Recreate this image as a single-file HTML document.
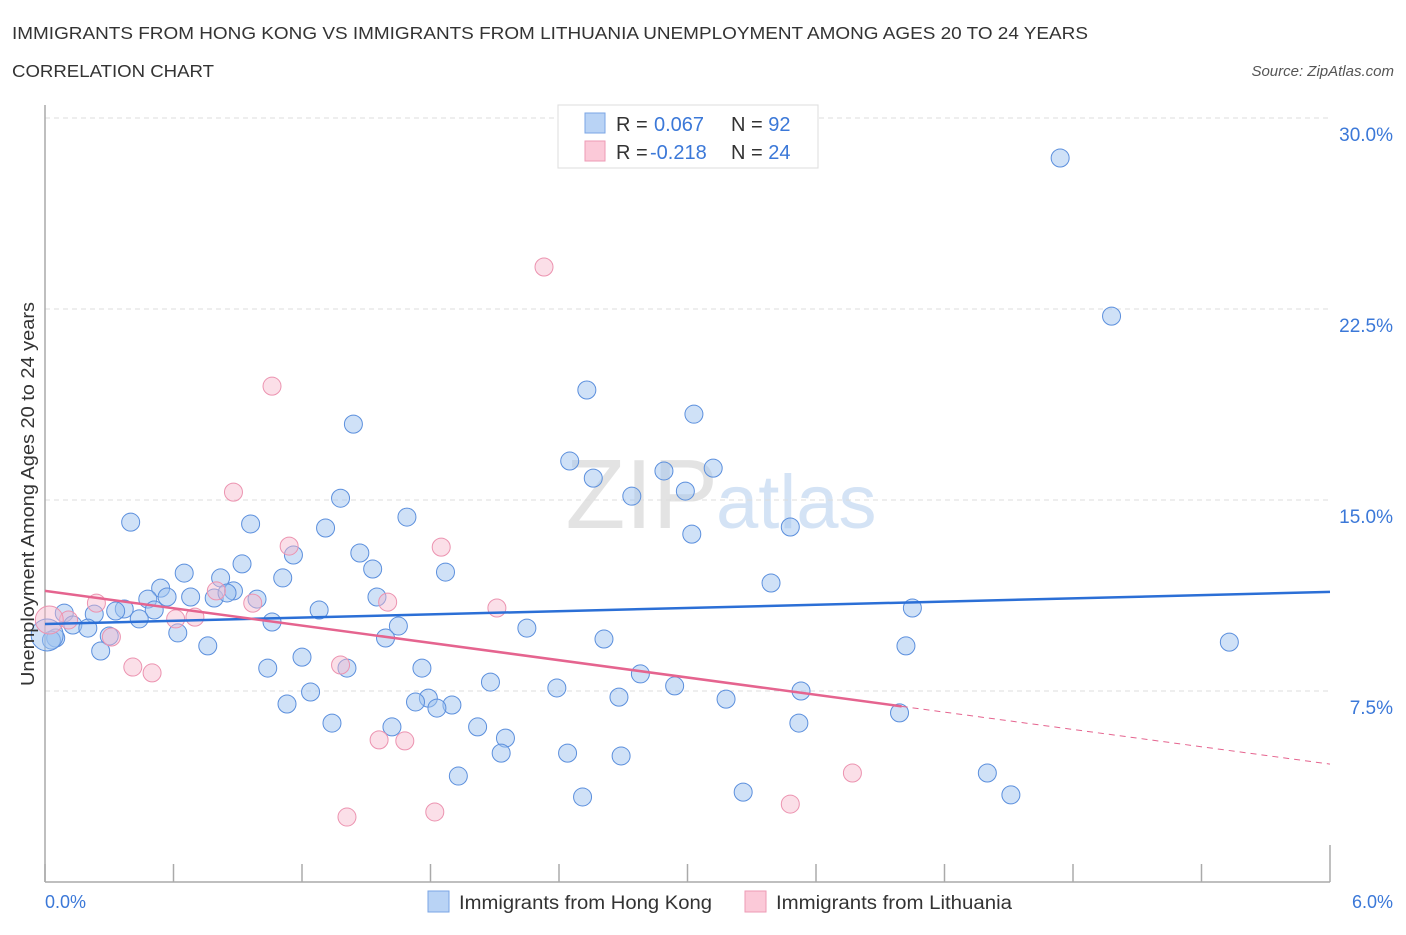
<!DOCTYPE html>
<html><head><meta charset="utf-8"><style>
body{margin:0;background:#fff;font-family:"Liberation Sans",sans-serif;}
svg text{font-family:"Liberation Sans",sans-serif;}
</style></head><body>
<svg id="chart" width="1406" height="930" xmlns="http://www.w3.org/2000/svg">
<text x="12" y="39" font-size="17.5" fill="#333" textLength="1076" lengthAdjust="spacingAndGlyphs">IMMIGRANTS FROM HONG KONG VS IMMIGRANTS FROM LITHUANIA UNEMPLOYMENT AMONG AGES 20 TO 24 YEARS</text>
<text x="12" y="77" font-size="17.5" fill="#333" textLength="202" lengthAdjust="spacingAndGlyphs">CORRELATION CHART</text>
<text x="1394" y="76" font-size="15" fill="#555" font-style="italic" text-anchor="end">Source: ZipAtlas.com</text>
<text x="718" y="528" font-size="98" fill="#e3e3e3" text-anchor="end" font-family="Liberation Serif">ZIP</text>
<text x="716" y="528" font-size="76" fill="#d4e3f5">atlas</text>
<g id="grid"></g>
<g id="axes"></g>
<g id="pts"></g>
<g id="lines"></g>
<text transform="translate(34,494) rotate(-90)" font-size="18" fill="#333" text-anchor="middle" textLength="384" lengthAdjust="spacingAndGlyphs">Unemployment Among Ages 20 to 24 years</text>
<text x="45" y="908" font-size="18" fill="#3b78d8">0.0%</text>
<text x="1393" y="908" font-size="18" fill="#3b78d8" text-anchor="end">6.0%</text>
<g>
<rect x="558" y="105" width="260" height="63" fill="#fff" stroke="#ddd"/>
<rect x="585" y="113" width="20" height="20" fill="#b9d3f5" stroke="#7aa5e5"/>
<rect x="585" y="141" width="20" height="20" fill="#fbc9d8" stroke="#ee9ab5"/>
<text x="616" y="131" font-size="20" fill="#333">R = <tspan x="654" fill="#3b78d8">0.067</tspan><tspan x="731">N = </tspan><tspan fill="#3b78d8">92</tspan></text>
<text x="616" y="159" font-size="20" fill="#333">R = <tspan x="650" fill="#3b78d8">-0.218</tspan><tspan x="731">N = </tspan><tspan fill="#3b78d8">24</tspan></text>
</g>
<g>
<rect x="428" y="891" width="21" height="21" fill="#b9d3f5" stroke="#7aa5e5"/>
<text x="459" y="909" font-size="19" fill="#333" textLength="253" lengthAdjust="spacingAndGlyphs">Immigrants from Hong Kong</text>
</g>
<g>
<rect x="745" y="891" width="21" height="21" fill="#fbc9d8" stroke="#ee9ab5"/>
<text x="776" y="909" font-size="19" fill="#333" textLength="236" lengthAdjust="spacingAndGlyphs">Immigrants from Lithuania</text>
</g>
</svg>
<script>
const yTicks=[7.5,15,22.5,30];
const yTickLabels=["7.5%","15.0%","22.5%","30.0%"];
const xTicks=[0,0.6,1.2,1.8,2.4,3.0,3.6,4.2,4.8,5.4,6.0];
const hkX=[4.74,4.98,2.53,3.03,1.44,2.45,2.89,3.12,2.56,2.99,2.74,1.38,0.40,0.96,1.69,1.31,3.02,3.48,1.16,1.47,0.92,0.65,1.53,1.87,0.82,1.11,0.54,3.39,0.48,0.57,0.68,0.79,0.88,0.85,0.99,0.37,0.33,0.51,1.28,1.55,4.05,0.23,0.09,0.44,1.06,0.13,0.20,1.65,2.25,0.62,0.30,1.59,2.61,0.05,0.03,5.53,4.02,0.26,0.76,1.20,1.04,1.41,1.76,2.78,2.08,2.39,2.94,1.24,3.53,1.79,2.68,1.73,1.13,1.90,1.83,3.18,3.99,1.34,1.62,2.02,3.52,2.15,2.13,2.44,2.69,1.93,4.40,3.26,2.51,4.51,0.01];
const hkY=[28.43,22.22,19.32,18.37,17.98,16.53,16.14,16.25,15.86,15.35,15.15,15.07,14.13,14.06,14.33,13.90,13.66,13.94,12.84,12.92,12.49,12.13,12.29,12.17,11.94,11.94,11.54,11.74,11.11,11.19,11.19,11.15,11.43,11.35,11.11,10.72,10.64,10.68,10.68,11.19,10.76,10.52,10.56,10.33,10.21,10.09,9.97,10.05,9.97,9.78,9.66,9.58,9.54,9.58,9.50,9.42,9.27,9.07,9.27,8.83,8.40,8.40,8.40,8.17,7.85,7.62,7.70,7.46,7.50,7.22,7.26,7.07,6.99,6.95,6.83,7.18,6.64,6.24,6.09,6.09,6.24,5.65,5.06,5.06,4.95,4.16,4.28,3.53,3.34,3.42,9.70];
const ltX=[2.33,1.06,0.88,1.14,1.85,2.11,1.60,0.24,0.80,0.97,0.61,0.70,0.11,0.31,0.41,0.50,1.38,1.56,1.68,3.77,3.48,1.41,1.82,0.02];
const ltY=[24.15,19.47,15.31,13.19,13.15,10.76,10.99,10.95,11.43,10.95,10.33,10.40,10.29,9.62,8.44,8.21,8.52,5.58,5.54,4.28,3.06,2.55,2.75,10.29];
const hkTrend=[10.13,11.39];
const ltTrend=[11.43,4.63];
const ltSolidEnd=4.0;
const NS="http://www.w3.org/2000/svg";
const X0=45,X1=1330,Y0=882,Y1=118;
function sx(v){return X0+(v/6)*(X1-X0);}
function sy(v){return Y0-(v/30)*(Y0-Y1);}
function mk(tag,attrs,parent){const e=document.createElementNS(NS,tag);for(const k in attrs)e.setAttribute(k,attrs[k]);parent.appendChild(e);return e;}
const grid=document.getElementById('grid'),axes=document.getElementById('axes'),pts=document.getElementById('pts'),lines=document.getElementById('lines');
yTicks.forEach((t,i)=>{
 const l=mk('line',{x1:X0,x2:X1,y1:sy(t),y2:sy(t),stroke:'#ddd','stroke-dasharray':'5,4'},grid);
 
 
 const tx=mk('text',{x:1393,y:sy(t)+23,'font-size':19,fill:'#3b78d8','text-anchor':'end'},grid);
 tx.textContent=yTickLabels[i];
 
 
});
const ya=mk('line',{x1:X0,x2:X0,y1:105,y2:Y0,stroke:'#aaa','stroke-width':1.5},axes);


const xa=mk('line',{x1:X0,x2:X1,y1:Y0,y2:Y0,stroke:'#aaa','stroke-width':1.5},axes);


xTicks.forEach(t=>{
 const l=mk('line',{x1:sx(t),x2:sx(t),y1:(t==6?845:864),y2:Y0,stroke:'#aaa','stroke-width':1.5},axes);
 
 
});
hkX.forEach((x,i)=>{
 const big=i==hkX.length-1;
 const c=mk('circle',{cx:sx(x),cy:sy(hkY[i]),r:big?16:9,fill:'rgba(160,196,240,0.5)',stroke:'#5b8fdd','stroke-width':1},pts);
 
 
});
ltX.forEach((x,i)=>{
 const big=i==ltX.length-1;
 const c=mk('circle',{cx:sx(x),cy:sy(ltY[i]),r:big?14:9,fill:'rgba(247,185,205,0.45)',stroke:'#ec93b0','stroke-width':1},pts);
 
 
});
const hl=mk('line',{x1:sx(0),y1:sy(hkTrend[0]),x2:sx(6),y2:sy(hkTrend[1]),stroke:'#2b6fd6','stroke-width':2.5},lines);


const ltAt=x=>ltTrend[0]+(ltTrend[1]-ltTrend[0])*x/6;
const pl=mk('line',{x1:sx(0),y1:sy(ltTrend[0]),x2:sx(ltSolidEnd),y2:sy(ltAt(ltSolidEnd)),stroke:'#e5648f','stroke-width':2.5},lines);


const pd=mk('line',{x1:sx(ltSolidEnd),y1:sy(ltAt(ltSolidEnd)),x2:sx(6),y2:sy(ltTrend[1]),stroke:'#e5648f','stroke-width':1,'stroke-dasharray':'6,5'},lines);


</script>
</body></html>
